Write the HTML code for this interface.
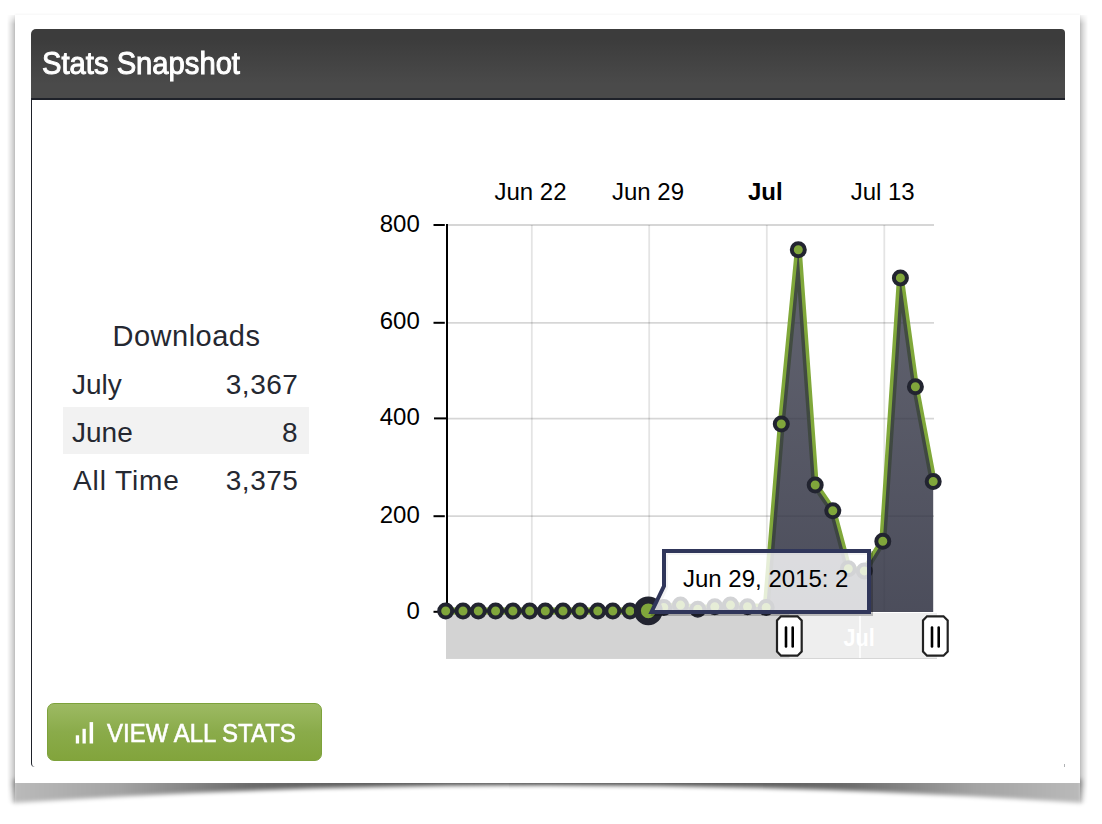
<!DOCTYPE html>
<html><head><meta charset="utf-8">
<style>
html,body{margin:0;padding:0;background:#fff;}
body{width:1102px;height:824px;position:relative;overflow:hidden;font-family:"Liberation Sans",sans-serif;}
.abs{position:absolute;}
#card{left:15px;top:15px;width:1065px;height:768px;background:#fff;box-shadow:0 -1px 2px rgba(0,0,0,0.04);}
#shl{left:7px;top:15px;width:8px;height:790px;background:linear-gradient(to right,rgba(0,0,0,0),rgba(0,0,0,0.12) 55%,rgba(0,0,0,0.25));
  -webkit-mask-image:linear-gradient(to bottom,rgba(0,0,0,0.2),#000 9px,#000 770px,rgba(0,0,0,0) 790px);}
#shr{left:1080px;top:15px;width:8px;height:790px;background:linear-gradient(to left,rgba(0,0,0,0),rgba(0,0,0,0.12) 55%,rgba(0,0,0,0.25));
  -webkit-mask-image:linear-gradient(to bottom,rgba(0,0,0,0.2),#000 9px,#000 770px,rgba(0,0,0,0) 790px);}
#hdr{left:31px;top:29px;width:1034px;height:69px;border-bottom:2px solid #1e2129;border-radius:5px 4px 0 0;
  background:linear-gradient(#3c3c3c 15%,#4a4a4a 80%);}
#title{left:42px;top:44.3px;color:#fff;font-size:31.8px;line-height:38px;white-space:nowrap;transform-origin:0 0;transform:scaleX(0.918);-webkit-text-stroke:1px #fff;}
#lborder{left:31px;top:100px;width:6px;height:667px;border-left:1px solid #1e2129;border-bottom-left-radius:4px;}
.txt{color:#252831;font-size:28px;line-height:34px;white-space:nowrap;}
#stripe{left:63px;top:407px;width:246px;height:47px;background:#f2f2f2;}
#btn{left:47.4px;top:702.6px;width:274.4px;height:58px;box-sizing:border-box;border:1px solid #7da23b;border-radius:7px;background:linear-gradient(#9dba63,#8aab4a 50%,#82a43c);}
#btntxt{left:107px;top:717.5px;color:#fff;font-size:26.5px;line-height:30px;white-space:nowrap;transform-origin:0 0;transform:scaleX(0.905);-webkit-text-stroke:0.6px #fff;}
svg{position:absolute;left:0;top:0;}
</style></head><body>
<div id="shl" class="abs"></div>
<div id="shr" class="abs"></div>
<svg width="1102" height="824">
  <defs>
    <linearGradient id="shg" x1="0" x2="1" y1="0" y2="0">
      <stop offset="0" stop-color="#000" stop-opacity="0.27"/>
      <stop offset="0.1" stop-color="#000" stop-opacity="0.36"/>
      <stop offset="0.22" stop-color="#000" stop-opacity="0.58"/>
      <stop offset="0.5" stop-color="#000" stop-opacity="0.75"/>
      <stop offset="0.78" stop-color="#000" stop-opacity="0.58"/>
      <stop offset="0.9" stop-color="#000" stop-opacity="0.36"/>
      <stop offset="1" stop-color="#000" stop-opacity="0.27"/>
    </linearGradient>
    <filter id="blur2" x="-10%" y="-200%" width="120%" height="500%"><feGaussianBlur stdDeviation="2"/></filter>
  </defs>
  <path d="M13,779 L1082,779 L1082,803 Q547,767 13,803 Z" fill="url(#shg)" filter="url(#blur2)"/>
</svg>
<div id="card" class="abs"></div>
<div id="hdr" class="abs"></div>
<div id="title" class="abs">Stats Snapshot</div>
<div id="lborder" class="abs"></div>
<div class="abs" style="left:1063.5px;top:764px;width:1px;height:3px;background:rgba(30,33,41,0.35)"></div>

<div class="abs txt" style="left:112.5px;top:318.5px;font-size:29px;letter-spacing:0.5px">Downloads</div>
<div id="stripe" class="abs"></div>
<div class="abs txt" style="left:72px;top:368px">July</div>
<div class="abs txt" style="left:225.8px;top:368px;width:70px;text-align:right;letter-spacing:0.5px">3,367</div>
<div class="abs txt" style="left:72px;top:416px">June</div>
<div class="abs txt" style="left:227.6px;top:416px;width:70px;text-align:right">8</div>
<div class="abs txt" style="left:73px;top:464px;letter-spacing:0.9px">All Time</div>
<div class="abs txt" style="left:225.8px;top:464px;width:70px;text-align:right;letter-spacing:0.5px">3,375</div>

<div id="btn" class="abs"></div>
<svg width="1102" height="824">
  <rect x="75.8" y="735.3" width="3.3" height="8.2" fill="#fff"/>
  <rect x="82.5" y="728.8" width="3.3" height="14.7" fill="#fff"/>
  <rect x="89.6" y="722.1" width="3.5" height="21.4" fill="#fff"/>
</svg>
<div id="btntxt" class="abs">VIEW ALL STATS</div>

<svg width="1102" height="824" font-family="Liberation Sans, sans-serif">
  <defs>
    <linearGradient id="areag" gradientUnits="userSpaceOnUse" x1="0" x2="0" y1="250" y2="612">
      <stop offset="0" stop-color="#313343" stop-opacity="0.76"/>
      <stop offset="1" stop-color="#313343" stop-opacity="0.87"/>
    </linearGradient>
  </defs>
  <!-- grid -->
  <g stroke="#e4e4e4" stroke-width="1.8">
    <line x1="531.8" y1="225" x2="531.8" y2="611"/>
    <line x1="649.2" y1="225" x2="649.2" y2="611"/>
    <line x1="766.8" y1="225" x2="766.8" y2="611"/>
    <line x1="884.3" y1="225" x2="884.3" y2="611"/>
  </g>
  <g stroke="#000" stroke-opacity="0.16" stroke-width="1.8">
    <line x1="447" y1="225" x2="934" y2="225"/>
    <line x1="447" y1="322.8" x2="934" y2="322.8"/>
    <line x1="447" y1="418.6" x2="934" y2="418.6"/>
    <line x1="447" y1="516.2" x2="934" y2="516.2"/>
  </g>
  <!-- navigator -->
  <rect x="446" y="613" width="491" height="45.5" fill="#eeeeee"/>
  <line x1="446" y1="658.5" x2="937" y2="658.5" stroke="#d6d6d6" stroke-width="1"/>
  <rect x="446" y="613" width="343.4" height="45.5" fill="#d3d3d3"/>
  <line x1="860" y1="616" x2="860" y2="658" stroke="#fff" stroke-width="1.5"/>
  <text x="0" y="646.5" fill="#fff" font-size="24" font-weight="bold" text-anchor="middle" transform="translate(859.1,0) scale(0.9,1)">Jul</text>
  <!-- axis -->
  <line x1="447" y1="224" x2="447" y2="612" stroke="#000" stroke-width="2"/>
  <g stroke="#000" stroke-width="2">
    <line x1="433.5" y1="225" x2="444.8" y2="225"/>
    <line x1="433.5" y1="322.8" x2="444.8" y2="322.8"/>
    <line x1="434" y1="418.4" x2="446" y2="418.4"/>
    <line x1="433.5" y1="516.2" x2="444.8" y2="516.2"/>
    <line x1="433.5" y1="611.8" x2="444.8" y2="611.8"/>
  </g>
  <g font-size="24" fill="#000" text-anchor="end">
    <text x="419.8" y="231.8">800</text>
    <text x="419.8" y="329.3">600</text>
    <text x="419.8" y="425.4">400</text>
    <text x="419.8" y="522.8">200</text>
    <text x="419.8" y="619">0</text>
  </g>
  <g font-size="24" fill="#000" text-anchor="middle">
    <text x="530.5" y="200">Jun 22</text>
    <text x="648" y="200">Jun 29</text>
    <text x="765.3" y="200" font-weight="bold">Jul</text>
    <text x="882.7" y="200">Jul 13</text>
  </g>
  <!-- series -->
  <polyline points="445.7,611.0 463.0,611.0 478.3,611.0 495.6,611.0 512.9,611.0 529.7,611.0 545.3,611.0 563.0,611.0 580.0,611.0 597.8,611.0 612.8,611.0 630.0,611.0 648.3,610.2 663.8,607.4 680.5,605.1 697.8,609.2 714.8,606.8 730.5,605.1 747.5,606.8 766.2,607.4 781.3,424.0 798.3,249.8 815.2,485.0 832.8,510.7 848.3,568.8 864.3,570.9 882.8,541.2 900.4,277.9 915.4,386.7 933.2,481.5" fill="none" stroke="#80a83a" stroke-width="7" stroke-linejoin="round"/>
  <path d="M445.7,612 L445.7,611.0 L463.0,611.0 L478.3,611.0 L495.6,611.0 L512.9,611.0 L529.7,611.0 L545.3,611.0 L563.0,611.0 L580.0,611.0 L597.8,611.0 L612.8,611.0 L630.0,611.0 L648.3,610.2 L663.8,607.4 L680.5,605.1 L697.8,609.2 L714.8,606.8 L730.5,605.1 L747.5,606.8 L766.2,607.4 L781.3,424.0 L798.3,249.8 L815.2,485.0 L832.8,510.7 L848.3,568.8 L864.3,570.9 L882.8,541.2 L900.4,277.9 L915.4,386.7 L933.2,481.5 L933.2,612 Z" fill="url(#areag)"/>
  <line x1="446" y1="611" x2="648" y2="611" stroke="#222430" stroke-width="3.6"/>
  <g fill="#80a63b" stroke="#222430" stroke-width="4.0">
<circle cx="445.7" cy="611.0" r="6.5"/>
<circle cx="463.0" cy="611.0" r="6.5"/>
<circle cx="478.3" cy="611.0" r="6.5"/>
<circle cx="495.6" cy="611.0" r="6.5"/>
<circle cx="512.9" cy="611.0" r="6.5"/>
<circle cx="529.7" cy="611.0" r="6.5"/>
<circle cx="545.3" cy="611.0" r="6.5"/>
<circle cx="563.0" cy="611.0" r="6.5"/>
<circle cx="580.0" cy="611.0" r="6.5"/>
<circle cx="597.8" cy="611.0" r="6.5"/>
<circle cx="612.8" cy="611.0" r="6.5"/>
<circle cx="630.0" cy="611.0" r="6.5"/>
<circle cx="663.8" cy="607.4" r="6.5"/>
<circle cx="680.5" cy="605.1" r="6.5"/>
<circle cx="697.8" cy="609.2" r="6.5"/>
<circle cx="714.8" cy="606.8" r="6.5"/>
<circle cx="730.5" cy="605.1" r="6.5"/>
<circle cx="747.5" cy="606.8" r="6.5"/>
<circle cx="766.2" cy="607.4" r="6.5"/>
<circle cx="781.3" cy="424.0" r="6.5"/>
<circle cx="798.3" cy="249.8" r="6.5"/>
<circle cx="815.2" cy="485.0" r="6.5"/>
<circle cx="832.8" cy="510.7" r="6.5"/>
<circle cx="848.3" cy="568.8" r="6.5"/>
<circle cx="864.3" cy="570.9" r="6.5"/>
<circle cx="882.8" cy="541.2" r="6.5"/>
<circle cx="900.4" cy="277.9" r="6.5"/>
<circle cx="915.4" cy="386.7" r="6.5"/>
<circle cx="933.2" cy="481.5" r="6.5"/>
  </g>
  <circle cx="648.3" cy="610.8" r="10.9" fill="#80a63b" stroke="#222430" stroke-width="7"/>
  <!-- tooltip -->
  <path d="M666,553 L871,553 L871,614 L653.5,614 L666,588 Z" fill="none" stroke="#000" stroke-opacity="0.22" stroke-width="4"/>
  <path d="M664,551 L869,551 L869,612 L651.5,612 L664,586 Z" fill="#fff" fill-opacity="0.8" stroke="#30365a" stroke-width="4"/>
  <text x="683" y="586.6" font-size="24" fill="#000">Jun 29, 2015: 2</text>
  <!-- handles -->
  <g fill="#fff" stroke="#222" stroke-width="2.2">
    <path d="M781,616.3 L797.5,616.3 L801.7,620.5 L801.7,651.5 L797.5,655.7 L781,655.7 L777,651.5 L777,620.5 Z"/>
    <path d="M927,616.3 L943.5,616.3 L947.7,620.5 L947.7,651.5 L943.5,655.7 L927,655.7 L923,651.5 L923,620.5 Z"/>
  </g>
  <g stroke="#000" stroke-width="2.6" stroke-linecap="round">
    <line x1="786" y1="627.5" x2="786" y2="646.5"/>
    <line x1="792.7" y1="627.5" x2="792.7" y2="646.5"/>
    <line x1="932" y1="627.5" x2="932" y2="646.5"/>
    <line x1="938.7" y1="627.5" x2="938.7" y2="646.5"/>
  </g>
</svg>
</body></html>
